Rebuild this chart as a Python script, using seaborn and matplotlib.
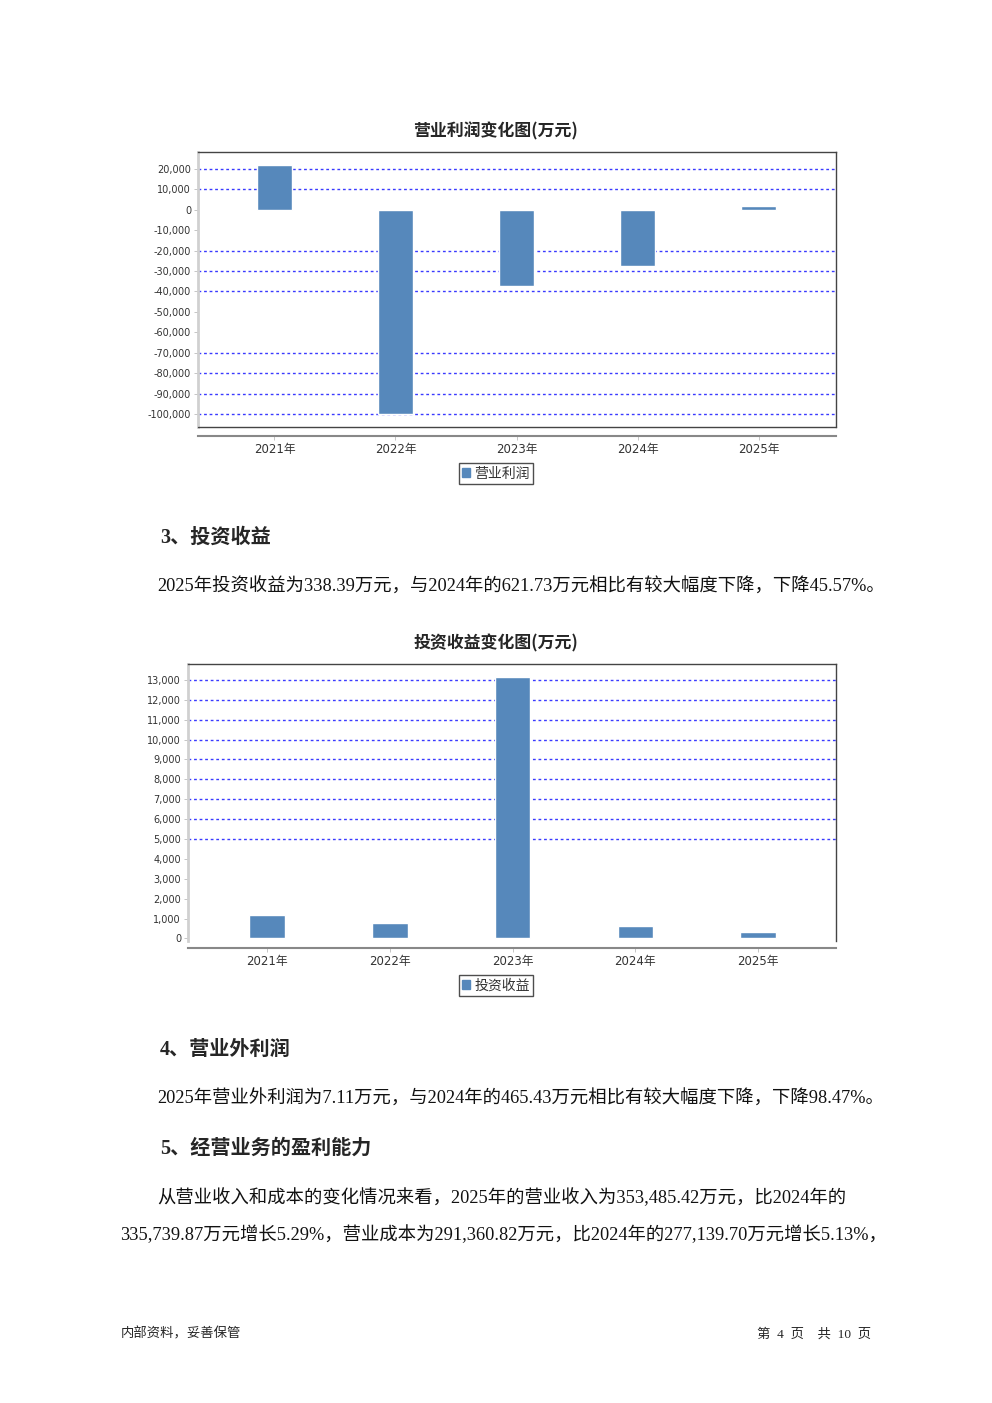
import pandas as pd
import matplotlib
matplotlib.use('Agg')
import matplotlib.pyplot as plt
import matplotlib.ticker as mticker
from matplotlib.patches import Patch
import seaborn as sns

# Datos (万元)
anios = ['2021年', '2022年', '2023年', '2024年', '2025年']
utilidad_operativa = [21900, -100200, -37300, -27400, 1700]
ingresos_inversion = [1180, 780, 13150, 621.73, 338.39]

ticks_utilidad = [20000, 10000, 0, -10000, -20000, -30000, -40000, -50000,
                  -60000, -70000, -80000, -90000, -100000]
grid_utilidad = [20000, 10000, -20000, -30000, -40000, -70000, -80000, -90000, -100000]
ticks_inversion = list(range(0, 14000, 1000))
grid_inversion = [5000, 6000, 7000, 8000, 9000, 10000, 11000, 12000, 13000]

COLOR_BARRA = '#5688bb'
W, H = 992, 1403

sns.set_style('white')
CJK = ['Noto Sans CJK SC', 'DejaVu Sans']
SERIF = ['Liberation Serif', 'Noto Sans CJK SC']
TICKS = ['DejaVu Sans', 'Noto Sans CJK SC']

fig = plt.figure(figsize=(W / 100, H / 100), dpi=100)
fig.patch.set_facecolor('white')


def caja(left, top, right, bottom):
    return [left / W, 1 - bottom / H, (right - left) / W, (bottom - top) / H]


def formato_miles(v, _):
    return '{:,.0f}'.format(v).replace('\u2212', '-')


def grafica(ax, valores, ticks, grid, ylim, xlim, offset, con_base, leyenda, cx, ly):
    df = pd.DataFrame({'anio': anios, 'valor': valores})
    sns.barplot(data=df, x='anio', y='valor', ax=ax, color=COLOR_BARRA,
                saturation=1, width=0.29, zorder=3)
    for g in grid:
        ax.axhline(g, color='#3a3aff', lw=1.0, ls=(0, (2, 2)), zorder=1)
    ax.set_ylim(*ylim)
    ax.set_xlim(*xlim)
    ax.set_yticks(ticks)
    ax.yaxis.set_major_formatter(mticker.FuncFormatter(formato_miles))
    ax.set_xlabel('')
    ax.set_ylabel('')
    for s in ['top', 'right']:
        ax.spines[s].set_color('#444444')
        ax.spines[s].set_linewidth(1)
    ax.spines['left'].set_color('#d0d0d0')
    ax.spines['left'].set_linewidth(2)
    ax.spines['bottom'].set_position(('outward', offset))
    ax.spines['bottom'].set_color('#888888')
    ax.spines['bottom'].set_linewidth(1.5)
    if con_base:
        ax.plot([0, 1], [0, 0], transform=ax.transAxes, color='#444444', lw=1,
                clip_on=False, zorder=5)
    ax.tick_params(axis='y', length=3, width=0.6, color='#bbbbbb', pad=2,
                   labelsize=7, labelcolor='#333333', left=True)
    ax.tick_params(axis='x', length=3, width=0.6, color='#bbbbbb', pad=2,
                   labelsize=8.5, labelcolor='#333333', bottom=True)
    for lab in ax.get_yticklabels():
        lab.set_family('DejaVu Sans')
    for lab in ax.get_xticklabels():
        lab.set_family(TICKS)
    leg = fig.legend(handles=[Patch(color=COLOR_BARRA, label=leyenda)], loc='center',
                     bbox_to_anchor=(cx / W, 1 - ly / H), frameon=True, fancybox=False,
                     edgecolor='#222222', handlelength=0.6, handleheight=0.6,
                     handletextpad=0.3, borderpad=0.25, borderaxespad=0,
                     prop={'family': CJK, 'size': 10})
    leg.get_frame().set_linewidth(1)
    for t in leg.get_texts():
        t.set_color('#333333')


ax1 = fig.add_axes(caja(198, 152, 836, 427))
grafica(ax1, utilidad_operativa, ticks_utilidad, grid_utilidad,
        (-106400, 28300), (-0.632, 4.64), 6.5, True, '营业利润', 496, 473.5)
fig.text(496 / W, 1 - 131 / H, '营业利润变化图(万元)', ha='center', va='center',
         fontsize=12.2, fontweight='bold', family=CJK)

ax2 = fig.add_axes(caja(188, 664, 836, 941))
grafica(ax2, ingresos_inversion, ticks_inversion, grid_inversion,
        (-130, 13800), (-0.644, 4.635), 5, False, '投资收益', 496, 985.5)
fig.text(496 / W, 1 - 643 / H, '投资收益变化图(万元)', ha='center', va='center',
         fontsize=12.2, fontweight='bold', family=CJK)


# Texto del documento
def titulo_seccion(x, y, s):
    fig.text(x / W, 1 - (y + 2) / H, s, ha='left', va='center', fontsize=14.5,
             fontweight='bold', family=SERIF)


def parrafo(x, y, s, size=13.2):
    fig.text(x / W, 1 - (y + 2) / H, s, ha='left', va='center', fontsize=size,
             family=SERIF, color='#111111')


titulo_seccion(160, 536, '3、投资收益')
parrafo(157, 585, '2025年投资收益为338.39万元，与2024年的621.73万元相比有较大幅度下降，下降45.57%。')
titulo_seccion(160, 1048, '4、营业外利润')
parrafo(157, 1097, '2025年营业外利润为7.11万元，与2024年的465.43万元相比有较大幅度下降，下降98.47%。')
titulo_seccion(160, 1147, '5、经营业务的盈利能力')
parrafo(157, 1196, '从营业收入和成本的变化情况来看，2025年的营业收入为353,485.42万元，比2024年的')
parrafo(120, 1233, '335,739.87万元增长5.29%，营业成本为291,360.82万元，比2024年的277,139.70万元增长5.13%，')

fig.text(121 / W, 1 - 1334 / H, '内部资料，妥善保管', ha='left', va='center',
         fontsize=9.6, family=SERIF)
fig.text(871 / W, 1 - 1334 / H, '第  4  页    共  10  页', ha='right', va='center',
         fontsize=9.6, family=SERIF)

fig.savefig('out.png', dpi=100, facecolor='white')
